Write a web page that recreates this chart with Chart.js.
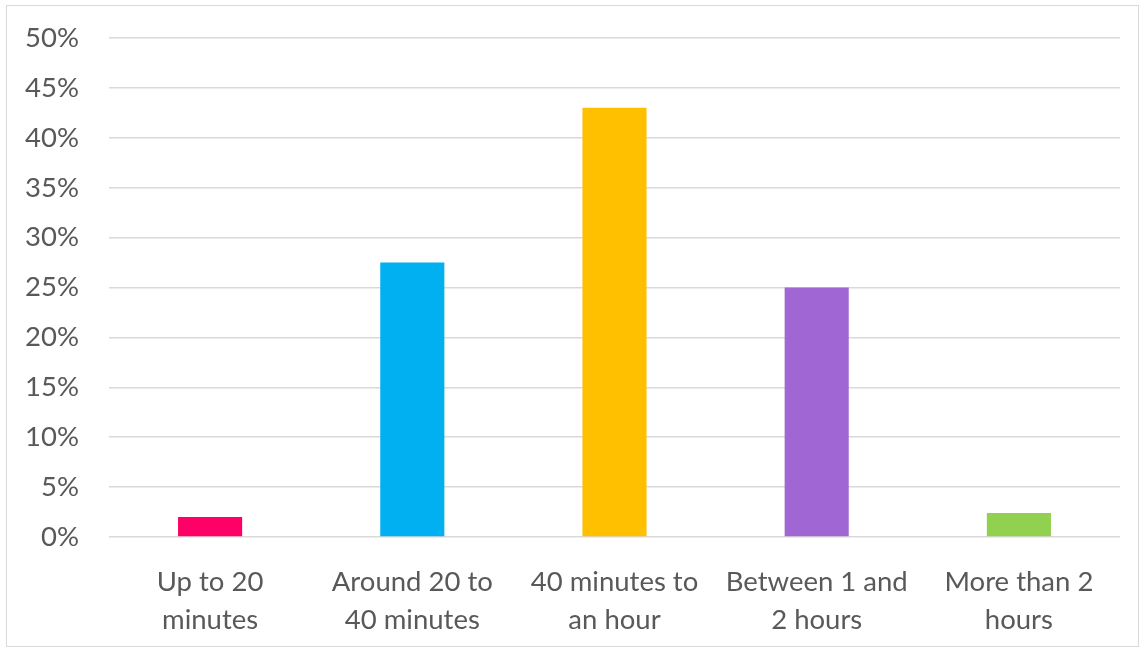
<!DOCTYPE html>
<html>
<head>
<meta charset="utf-8">
<script src="https://cdn.jsdelivr.net/npm/chart.js@4"></script>
<style>
  html, body { margin: 0; padding: 0; background: #fff; }
  #wrap { position: relative; width: 1141px; height: 649px; }
  #frame { position: absolute; left: 6px; top: 5px; width: 1133px; height: 642px; border: 1px solid #d9d9d9; box-sizing: border-box; pointer-events: none; }
</style>
</head>
<body>
<div id="wrap">
  <canvas id="grafica" width="1141" height="649"></canvas>
  <div id="frame"></div>
</div>
<script>
// categorias y valores (porcentaje)
const categorias = [
    ["Up to 20", "minutes"],
    ["Around 20 to", "40 minutes"],
    ["40 minutes to", "an hour"],
    ["Between 1 and", "2 hours"],
    ["More than 2", "hours"]
];
const valores = [2, 27.5, 43, 25, 2.4];
const colores = ["#ff0066", "#00b0f0", "#ffc000", "#a066d3", "#92d050"];
const ejeMin = 0;
const ejeMax = 50;
const ejePaso = 5;

const fuente = "Lato, 'Liberation Sans', sans-serif";

document.addEventListener("DOMContentLoaded", function () {
    let ctx = document.getElementById("grafica").getContext("2d");

    new Chart(ctx, {
        type: "bar",
        data: {
            labels: categorias,
            datasets: [{
                data: valores,
                backgroundColor: colores,
                borderWidth: 0,
                categoryPercentage: 1,
                barPercentage: 0.317
            }]
        },
        options: {
            responsive: false,
            animation: false,
            layout: { padding: { left: 0, right: 21, top: 38, bottom: 0 } },
            plugins: { legend: { display: false }, tooltip: { enabled: false } },
            scales: {
                x: {
                    grid: { display: false },
                    border: { display: false },
                    ticks: {
                        color: "#595959",
                        font: { family: fuente, size: 27.5, lineHeight: 1.38 },
                        padding: 18,
                        maxRotation: 0,
                        autoSkip: false
                    },
                    afterFit: function (scale) {
                        scale.height = 112;
                        scale.paddingLeft = 0;
                        scale.paddingRight = 0;
                    }
                },
                y: {
                    min: ejeMin,
                    max: ejeMax,
                    grid: { color: "#d9d9d9", lineWidth: 1.5, drawTicks: false },
                    border: { display: false },
                    ticks: {
                        stepSize: ejePaso,
                        color: "#595959",
                        font: { family: fuente, size: 27.5 },
                        padding: 30,
                        callback: v => v + "%"
                    },
                    afterFit: function (scale) {
                        scale.width = 109;
                        scale.paddingTop = 0;
                        scale.paddingBottom = 0;
                    }
                }
            }
        }
    });
});
</script>
</body>
</html>
